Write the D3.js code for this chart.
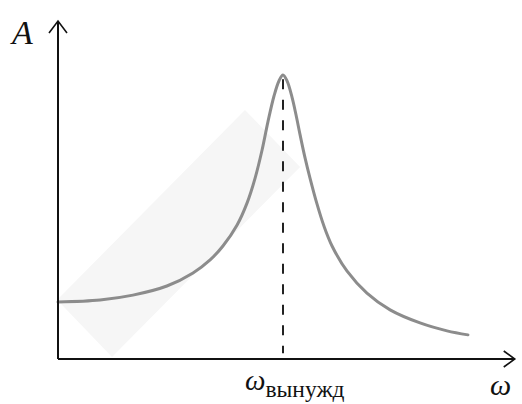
<!DOCTYPE html>
<html><head><meta charset="utf-8">
<script src="https://cdn.jsdelivr.net/npm/d3@7"></script>
<style>
html,body{margin:0;padding:0;background:#fff;}
svg{display:block;}
text.lbl{font-family:"Liberation Serif","Tinos","Times New Roman",serif;}
</style>
</head><body>
<svg id="c" width="522" height="404"></svg>
<script>
// Frequency (relative, ω/ω_вынужд) and amplitude (relative to peak)
const omega = [0, 0.187, 0.333, 0.484, 0.6, 0.676, 0.733, 0.796, 0.84, 0.876, 0.907, 0.933, 0.96, 0.982, 1.0,
               1.018, 1.04, 1.058, 1.076, 1.098, 1.12, 1.151, 1.182, 1.218, 1.284, 1.373, 1.476, 1.609, 1.729, 1.822];
const amplitude = [0.201, 0.208, 0.225, 0.257, 0.303, 0.349, 0.398, 0.472, 0.549, 0.637, 0.736, 0.835, 0.926, 0.979, 1.0,
                   0.979, 0.922, 0.859, 0.789, 0.708, 0.637, 0.546, 0.468, 0.398, 0.310, 0.232, 0.173, 0.127, 0.099, 0.085];
const omegaForced = 1.0;
const axisMaxX = 2.03, axisMaxY = 1.19;
const xLabel = "ω", yLabel = "A", markLabel = "ω", markSub = "вынужд";
// faint background band (decoration), in data units
const bandOmega = [-0.004, 0.831, 1.076, 0.24];
const bandAmp = [0.208, 0.877, 0.676, 0.007];

const svg = d3.select("#c");
const x = d3.scaleLinear().domain([0, 2]).range([58, 508]);
const y = d3.scaleLinear().domain([0, 1]).range([359, 75]);

svg.append("clipPath").attr("id","clip").append("rect")
  .attr("x", x(0)).attr("y", y(axisMaxY)).attr("width", x(axisMaxX)-x(0)).attr("height", y(0)-y(axisMaxY));
svg.append("path").attr("clip-path","url(#clip)")
  .attr("d", "M" + bandOmega.map((w,i)=>[x(w), y(bandAmp[i])].join(",")).join("L") + "Z")
  .attr("fill", "#f6f6f6");

// dashed line at forced frequency
svg.append("line")
  .attr("x1", x(omegaForced)).attr("x2", x(omegaForced))
  .attr("y1", y(0.985)).attr("y2", y(0.02))
  .attr("stroke", "#222").attr("stroke-width", 2).attr("stroke-dasharray", "10,10.5");

// curve
const pts = omega.map((w,i)=>[w, amplitude[i]]);
svg.append("path").datum(pts)
  .attr("d", d3.line().x(d=>x(d[0])).y(d=>y(d[1])).curve(d3.curveCatmullRom.alpha(0.5)))
  .attr("fill","none").attr("stroke","#8c8c8c").attr("stroke-width",3).attr("stroke-linecap","round");

// axes
const ax = svg.append("g").attr("stroke","#111").attr("fill","none").attr("stroke-width",2);
ax.append("line").attr("x1", x(0)).attr("x2", x(axisMaxX)).attr("y1", y(0)).attr("y2", y(0));
ax.append("line").attr("x1", x(0)).attr("x2", x(0)).attr("y1", y(0)).attr("y2", y(axisMaxY));
ax.append("path").attr("stroke-width",1.6)
  .attr("d", `M${x(axisMaxX)-11},${y(0)-8}L${x(axisMaxX)},${y(0)}L${x(axisMaxX)-11},${y(0)+8}`);
ax.append("path").attr("stroke-width",1.6)
  .attr("d", `M${x(0)-9},${y(axisMaxY)+12}L${x(0)},${y(axisMaxY)}L${x(0)+9},${y(axisMaxY)+12}`);

// labels
svg.append("text").attr("class","lbl").attr("x", 12).attr("y", 44)
  .attr("font-style","italic").attr("font-size", 34).attr("fill","#111").text(yLabel);
svg.append("text").attr("class","lbl").attr("x", 490).attr("y", 395)
  .attr("font-style","italic").attr("font-size", 30).attr("fill","#111").text(xLabel);
const t = svg.append("text").attr("class","lbl").attr("x", 245).attr("y", 390).attr("fill","#111");
t.append("tspan").attr("font-style","italic").attr("font-size", 29).text(markLabel);
t.append("tspan").attr("font-size", 23.5).attr("dy", 7).text(markSub);
</script>
</body></html>
